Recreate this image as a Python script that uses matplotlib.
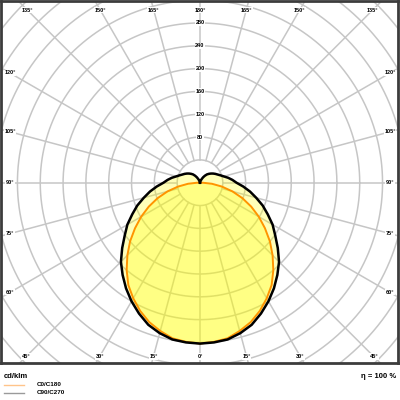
import numpy as np
import matplotlib
matplotlib.use('Agg')
import matplotlib.pyplot as plt

plt.rcParams['font.family'] = ['Liberation Sans', 'DejaVu Sans']
plt.rcParams['font.weight'] = 'bold'

# gamma angles (deg, 0 = straight down) and intensities in cd/klm
gamma = [0, 5, 10, 15, 20, 25, 30, 35, 40, 45, 50, 55, 60, 65, 70, 75, 80, 85, 90,
         95, 100, 105, 110, 115, 120, 125, 130, 135, 140, 145, 150, 155, 160, 165, 170, 175, 180]
c0_c180 = [282, 280, 277, 269, 260, 248, 234, 219, 200, 180, 160, 139, 119, 99, 79, 59, 39, 21, 5,
           0, 0, 0, 0, 0, 0, 0, 0, 0, 0, 0, 0, 0, 0, 0, 0, 0, 0]
c90_c270 = [282, 281, 279, 273, 265, 253, 240, 226, 211, 196, 178, 161, 147, 131, 117, 102, 89, 76, 64,
            57, 50, 43, 38, 34, 31, 28, 25, 22, 19, 15, 11, 7, 4, 2, 1, 0, 0]

ring_values = list(range(40, 520, 40))
ring_labels = [80, 120, 160, 200, 240, 280]
spoke_angles = list(range(0, 360, 15))
legend_names = ['C0/C180', 'C90/C270']
efficiency = 'η = 100 %'
unit = 'cd/klm'

fig = plt.figure(figsize=(4, 4), dpi=100)
ax = fig.add_axes([1 / 400, 37 / 400, 397 / 400, 362 / 400])
xmin, xmax = -348.8, 347.1
ymin, ymax = -316.0, 318.5
ax.set_xlim(xmin, xmax)
ax.set_ylim(ymin, ymax)
ax.set_xticks([])
ax.set_yticks([])
for s in ax.spines.values():
    s.set_color('#3c3c3c')
    s.set_linewidth(2)

grid_col = '#c6c6c6'
t = np.linspace(0, 2 * np.pi, 400)
for r in ring_values:
    ax.plot(r * np.cos(t), r * np.sin(t), color=grid_col, lw=1.1, zorder=1)
for a in spoke_angles:
    ar = np.radians(a)
    ax.plot([-40 * np.sin(ar), -700 * np.sin(ar)], [-40 * np.cos(ar), -700 * np.cos(ar)],
            color=grid_col, lw=1.1, zorder=1)


def to_xy(angles, vals):
    g = np.radians(np.concatenate([-np.array(angles[::-1]), np.array(angles[1:])]))
    v = np.concatenate([np.array(vals[::-1]), np.array(vals[1:])])
    return v * np.sin(g), -v * np.cos(g)


x1, y1 = to_xy(gamma, c0_c180)
x2, y2 = to_xy(gamma, c90_c270)
ax.fill(x2, y2, color='#ffff00', alpha=0.28, lw=0, zorder=2)
ax.fill(x1, y1, color='#ffff00', alpha=0.28, lw=0, zorder=2)
ax.plot(x1, y1, color='#ff9400', lw=1.4, zorder=3)
ax.plot(x2, y2, color='black', lw=1.8, zorder=4)

# angle labels along the frame
px = 0.5705
lx_in = xmax - 8 / px
ly_top = ymax - 9 / px
ly_bot = ymin + 6.5 / px
box = dict(facecolor='white', edgecolor='none', pad=0.4)
for a in range(0, 195, 15):
    ar = np.radians(a)
    dx, dy = np.sin(ar), -np.cos(ar)
    cands = []
    if dx > 1e-9:
        cands.append(lx_in / dx)
    if dy > 1e-9:
        cands.append(ly_top / dy)
    if dy < -1e-9:
        cands.append(ly_bot / dy)
    k = min(cands)
    for sgn in ([1] if a in (0, 180) else [-1, 1]):
        ax.text(sgn * k * dx, k * dy, f'{a}°', fontsize=4, ha='center', va='center',
                bbox=box, zorder=6)

for r in ring_labels:
    ax.text(0, r, str(r), fontsize=4, ha='center', va='center', bbox=box, zorder=6)

fig.text(4 / 400, 1 - 377 / 400, unit, fontsize=5.5, ha='left', va='center')
fig.text(396 / 400, 1 - 377 / 400, efficiency, fontsize=5.5, ha='right', va='center')
for i, (name, col) in enumerate(zip(legend_names, ['#ffc48a', '#9a9a9a'])):
    yy = 1 - (385 + 8 * i) / 400
    fig.add_artist(plt.Line2D([4 / 400, 24 / 400], [yy, yy], color=col, lw=1))
    fig.text(37 / 400, yy, name, fontsize=4.5, ha='left', va='center')

fig.savefig('out.png', dpi=100)
